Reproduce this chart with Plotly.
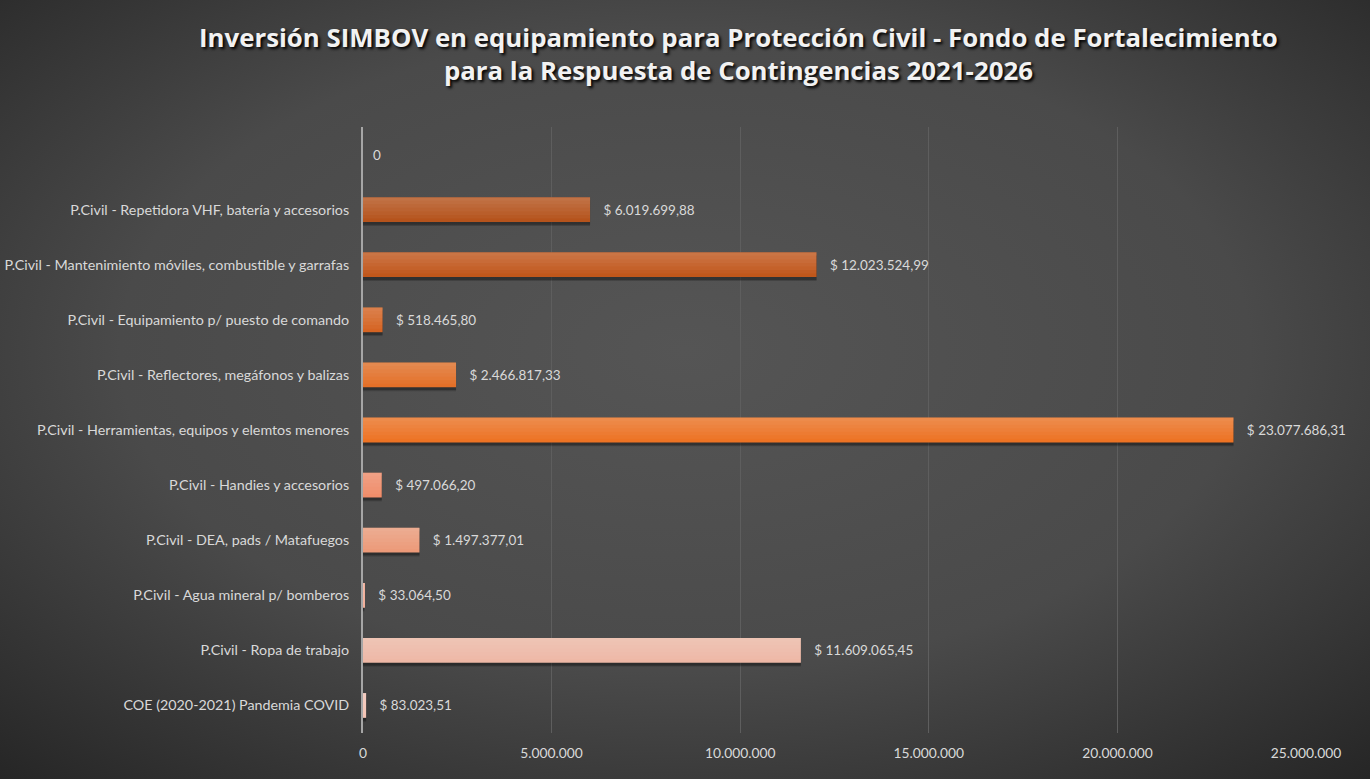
import plotly.graph_objects as go

# categories listed top to bottom, as in the chart
categories = [" ",
              "P.Civil - Repetidora VHF, batería y accesorios",
              "P.Civil - Mantenimiento móviles, combustible y garrafas",
              "P.Civil - Equipamiento p/ puesto de comando",
              "P.Civil - Reflectores, megáfonos y balizas",
              "P.Civil - Herramientas, equipos y elemtos menores",
              "P.Civil - Handies y accesorios",
              "P.Civil - DEA, pads / Matafuegos",
              "P.Civil - Agua mineral p/ bomberos",
              "P.Civil - Ropa de trabajo",
              "COE (2020-2021) Pandemia COVID"]
values = [0, 6019699.88, 12023524.99, 518465.80, 2466817.33, 23077686.31,
          497066.20, 1497377.01, 33064.50, 11609065.45, 83023.51]
x_ticks = [0, 5000000, 10000000, 15000000, 20000000, 25000000]

bar_colors = ["#000000", "#b5531c", "#c0571b", "#d56423", "#e47028", "#ed7324",
              "#f08d6a", "#ec9a79", "#f2b09b", "#eeb8a6", "#f4c4b5"]
label_templates = ["  0"] + ["   $ %{x:,.2f}"] * (len(values) - 1)

W, H = 1370, 779
ml, mr, mt, mb = 363, 64, 127, 46
pw, ph = W - ml - mr, H - mt - mb
bw = 0.45

bg_svg = ("data:image/svg+xml;utf8,"
          "<svg xmlns='http://www.w3.org/2000/svg' width='1370' height='779'>"
          "<defs><radialGradient id='g' cx='0.5' cy='0.45' r='0.75'>"
          "<stop offset='0' stop-color='%23555555'/>"
          "<stop offset='0.55' stop-color='%234a4a4a'/>"
          "<stop offset='1' stop-color='%23252525'/>"
          "</radialGradient></defs>"
          "<rect width='1370' height='779' fill='url(%23g)'/></svg>")

fig = go.Figure()
# soft drop shadow under each bar
for shift, alpha in [(0.07, 0.18), (0.05, 0.25)]:
    fig.add_trace(go.Bar(
        x=values, y=categories, orientation='h', width=bw, offset=-bw / 2 + shift,
        marker=dict(color=f'rgba(0,0,0,{alpha})', line=dict(width=0)),
        hoverinfo='skip'))
fig.add_trace(go.Bar(
    x=values, y=categories, orientation='h', width=bw, offset=-bw / 2,
    marker=dict(color=bar_colors, line=dict(width=0)),
    texttemplate=label_templates, textposition='outside',
    textfont=dict(color='#d9d9d9', size=13.5),
    cliponaxis=False, hoverinfo='skip'))
# stacked translucent strips from the top edge to fake the vertical gradient
steps = 7
for k in range(1, steps):
    fig.add_trace(go.Bar(
        x=values, y=categories, orientation='h', width=bw * k / steps, offset=-bw / 2,
        marker=dict(color='rgba(255,255,255,0.035)', line=dict(width=0)),
        hoverinfo='skip'))

fig.update_layout(
    width=W, height=H,
    margin=dict(l=ml, r=mr, t=mt, b=mb, autoexpand=False),
    separators=',.',
    barmode='overlay',
    paper_bgcolor='#3a3a3a', plot_bgcolor='rgba(0,0,0,0)',
    font=dict(family='Lato', color='#d9d9d9', size=13),
    showlegend=False,
    title=dict(text='Inversión SIMBOV en equipamiento para Protección Civil - Fondo de Fortalecimiento'
                    '<br>para la Respuesta de Contingencias 2021-2026',
               x=0.539, xanchor='center', y=0.94, yanchor='top',
               font=dict(family='Open Sans', size=25.8, color='#f2f2f2', weight='bold',
                         shadow='2px 2px 3px #000000')),
    xaxis=dict(range=[0, 25000000], tickvals=x_ticks, tickformat=',d',
               showgrid=True, gridcolor='#5e5e5e', gridwidth=1,
               zeroline=False, showline=False, ticks='', automargin=False,
               ticklabelstandoff=10, tickfont=dict(size=13.8, color='#d9d9d9')),
    yaxis=dict(categoryorder='array', categoryarray=categories,
               autorange='reversed', showgrid=False, zeroline=False,
               showline=True, linecolor='#a6a6a6', linewidth=2, ticks='',
               automargin=False,
               ticklabelstandoff=9, tickfont=dict(size=14.3, color='#d9d9d9')),
    images=[dict(source=bg_svg, xref='paper', yref='paper',
                 x=-ml / pw, y=1 + mt / ph, sizex=W / pw, sizey=H / ph,
                 xanchor='left', yanchor='top', sizing='stretch', layer='below')],
)

fig.write_html("out.html", config={'displayModeBar': False},
               post_script="document.body.style.margin='0';")
